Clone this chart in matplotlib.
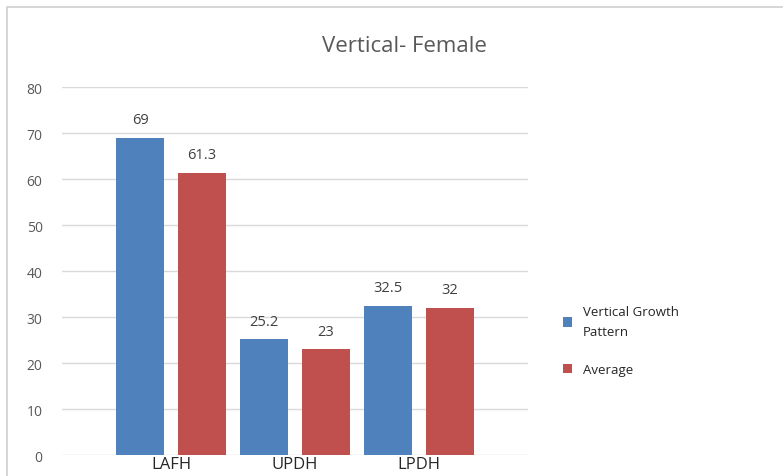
import matplotlib.pyplot as plt
import numpy as np
from matplotlib.patches import Rectangle

categories = ["LAFH", "UPDH", "LPDH"]
vertical_growth = [69, 25.2, 32.5]
average = [61.3, 23, 32]
value_labels_vg = ["69", "25.2", "32.5"]
value_labels_avg = ["61.3", "23", "32"]
yticks = [0, 10, 20, 30, 40, 50, 60, 70, 80]

blue = '#4F81BD'
red = '#C0504D'
grey = '#595959'

plt.rcParams['font.family'] = ['Open Sans', 'DejaVu Sans']

fig = plt.figure(figsize=(7.83, 4.77), dpi=100)
fig.patches.append(Rectangle((0.009, -0.05), 1.2, 1.033, transform=fig.transFigure,
                             fill=False, edgecolor='#D0D0D0', linewidth=1.2))

ax = fig.add_axes([0.0792, 0.044, 0.595, 0.7715])
x = np.arange(len(categories))
w = 0.39
off = 0.25
b1 = ax.bar(x - off, vertical_growth, w, color=blue, label="Vertical Growth\nPattern", zorder=3)
b2 = ax.bar(x + off, average, w, color=red, label="Average", zorder=3)

for rect, lab in zip(b1, value_labels_vg):
    ax.text(rect.get_x() + rect.get_width() / 2, rect.get_height() + 2.3, lab,
            ha='center', va='bottom', fontsize=10.5, color='#404040')
for rect, lab in zip(b2, value_labels_avg):
    ax.text(rect.get_x() + rect.get_width() / 2, rect.get_height() + 2.3, lab,
            ha='center', va='bottom', fontsize=10.5, color='#404040')

ax.set_ylim(0, 80)
ax.set_xlim(-0.88, 2.88)
ax.set_yticks(yticks)
ax.set_xticks(x)
ax.set_xticklabels(categories, fontsize=12, color='#262626')
ax.tick_params(axis='y', labelsize=10, colors=grey, length=0, pad=14)
ax.tick_params(axis='x', length=0, pad=1)
ax.grid(axis='y', color='#D9D9D9', linewidth=1, zorder=0)
for s in ax.spines.values():
    s.set_visible(False)

fig.text(0.517, 0.902, "Vertical- Female", ha='center', va='center', fontsize=16, color=grey)

leg = ax.legend(loc='center left', bbox_to_anchor=(1.05, 0.311), frameon=False, fontsize=9.5,
                handlelength=0.7, handleheight=0.7, labelspacing=1.9, handletextpad=0.8)
for t in leg.get_texts():
    t.set_color('#262626')
    t.set_linespacing(1.7)

fig.savefig("out.png", dpi=100)
